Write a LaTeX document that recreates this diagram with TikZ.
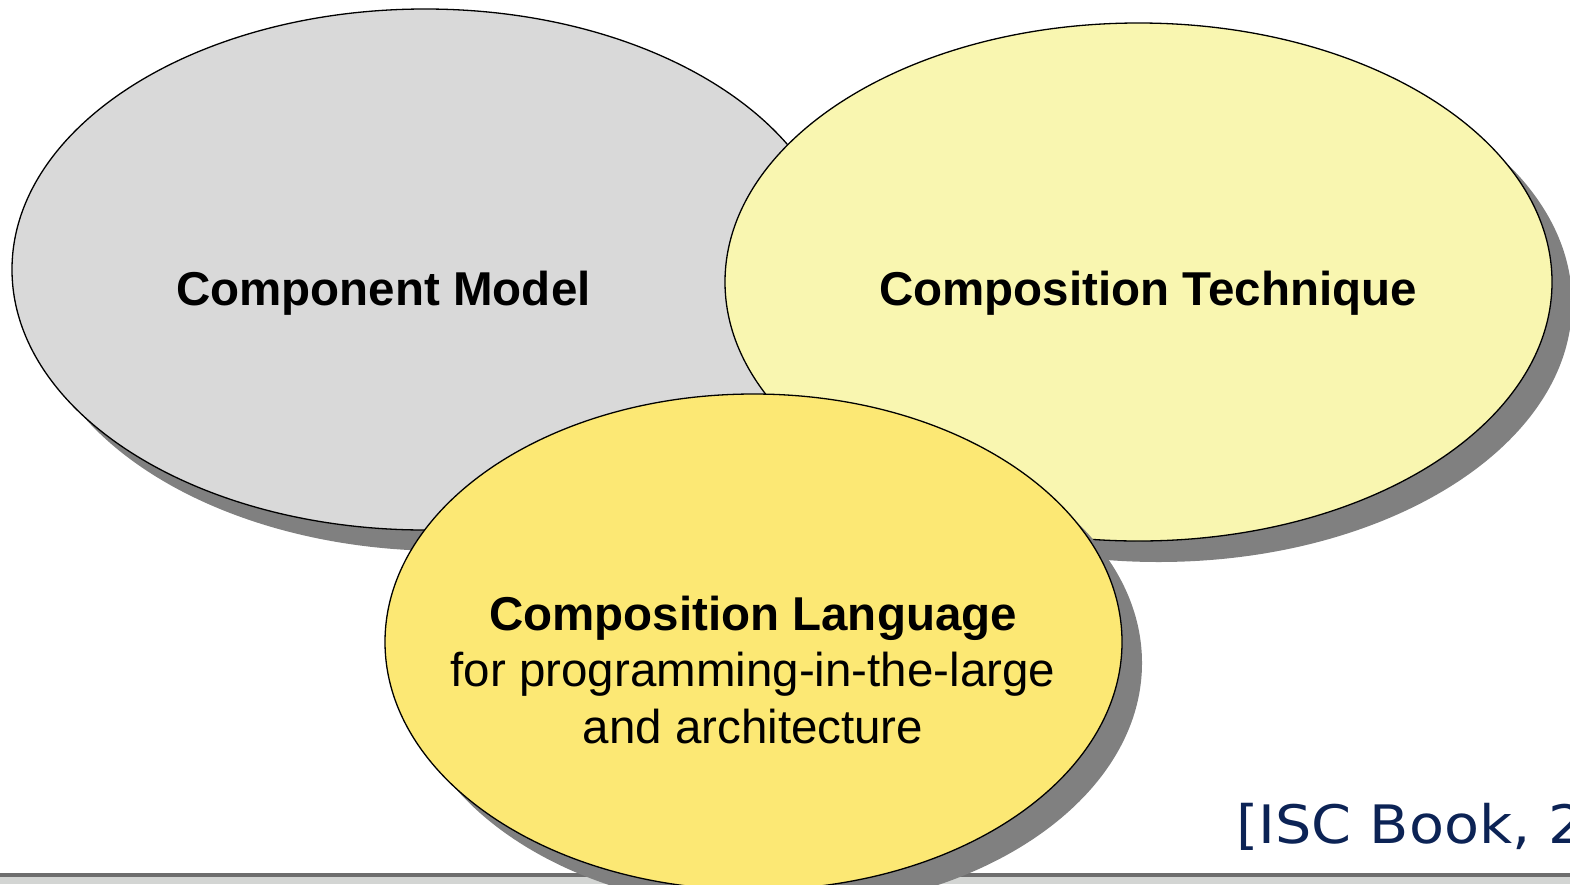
\documentclass[tikz,border=0pt]{standalone}
\usepackage{fontspec}
\setmainfont{Liberation Sans}
\newfontfamily\citefont[FakeStretch=1.08]{DejaVu Sans}
\usetikzlibrary{shapes.geometric,shadows}
\definecolor{cmgray}{HTML}{D9D9D9}
\definecolor{ctyellow}{HTML}{F9F6B0}
\definecolor{clyellow}{HTML}{FCE874}
\definecolor{shadowgray}{HTML}{808080}
\definecolor{bandline}{HTML}{6E6E6E}
\definecolor{bandlight}{HTML}{D3D5D3}
\definecolor{citenavy}{RGB}{12,35,85}
\tikzset{
  blob/.style={ellipse, draw=black, line width=1.3pt, inner sep=0pt,
    drop shadow={shadow xshift=20pt, shadow yshift=-21pt, fill=shadowgray, opacity=1}},
  bigtext/.style={font=\fontsize{47.5}{56.5}\selectfont, inner sep=0pt, align=center},
}
\begin{document}
\begin{tikzpicture}[x=1pt,y=-1pt]
\useasboundingbox (0,0) rectangle (1570,884);
\clip (0,0) rectangle (1570,884);
% bottom band
\fill[bandline] (0,873) rectangle (1570,877);
\fill[bandlight] (0,877) rectangle (1570,884);
% ellipses
\node[blob, fill=cmgray, minimum width=826pt, minimum height=521pt] (cm) at (425,269.5) {};
\node[blob, fill=ctyellow, minimum width=827pt, minimum height=518pt] (ct) at (1138.5,282) {};
\node[blob, fill=clyellow, minimum width=737pt, minimum height=496pt] (cl) at (753.5,642) {};
% texts
\node[bigtext, anchor=base] (cmt) at (383.5,305) {\bfseries Component Model};
\node[bigtext, anchor=base] (ctt) at (1148,305) {\bfseries Composition Technique};
\node[bigtext, anchor=base] (clt) at (753,743) {{\bfseries Composition Language}\\for programming-in-the-large\\and architecture};
% citation
\node[font=\citefont\fontsize{53}{60}\selectfont, text=citenavy, anchor=base west, inner sep=0pt] (cite) at (1236,843) {[ISC Book, 2};
\end{tikzpicture}
\end{document}
